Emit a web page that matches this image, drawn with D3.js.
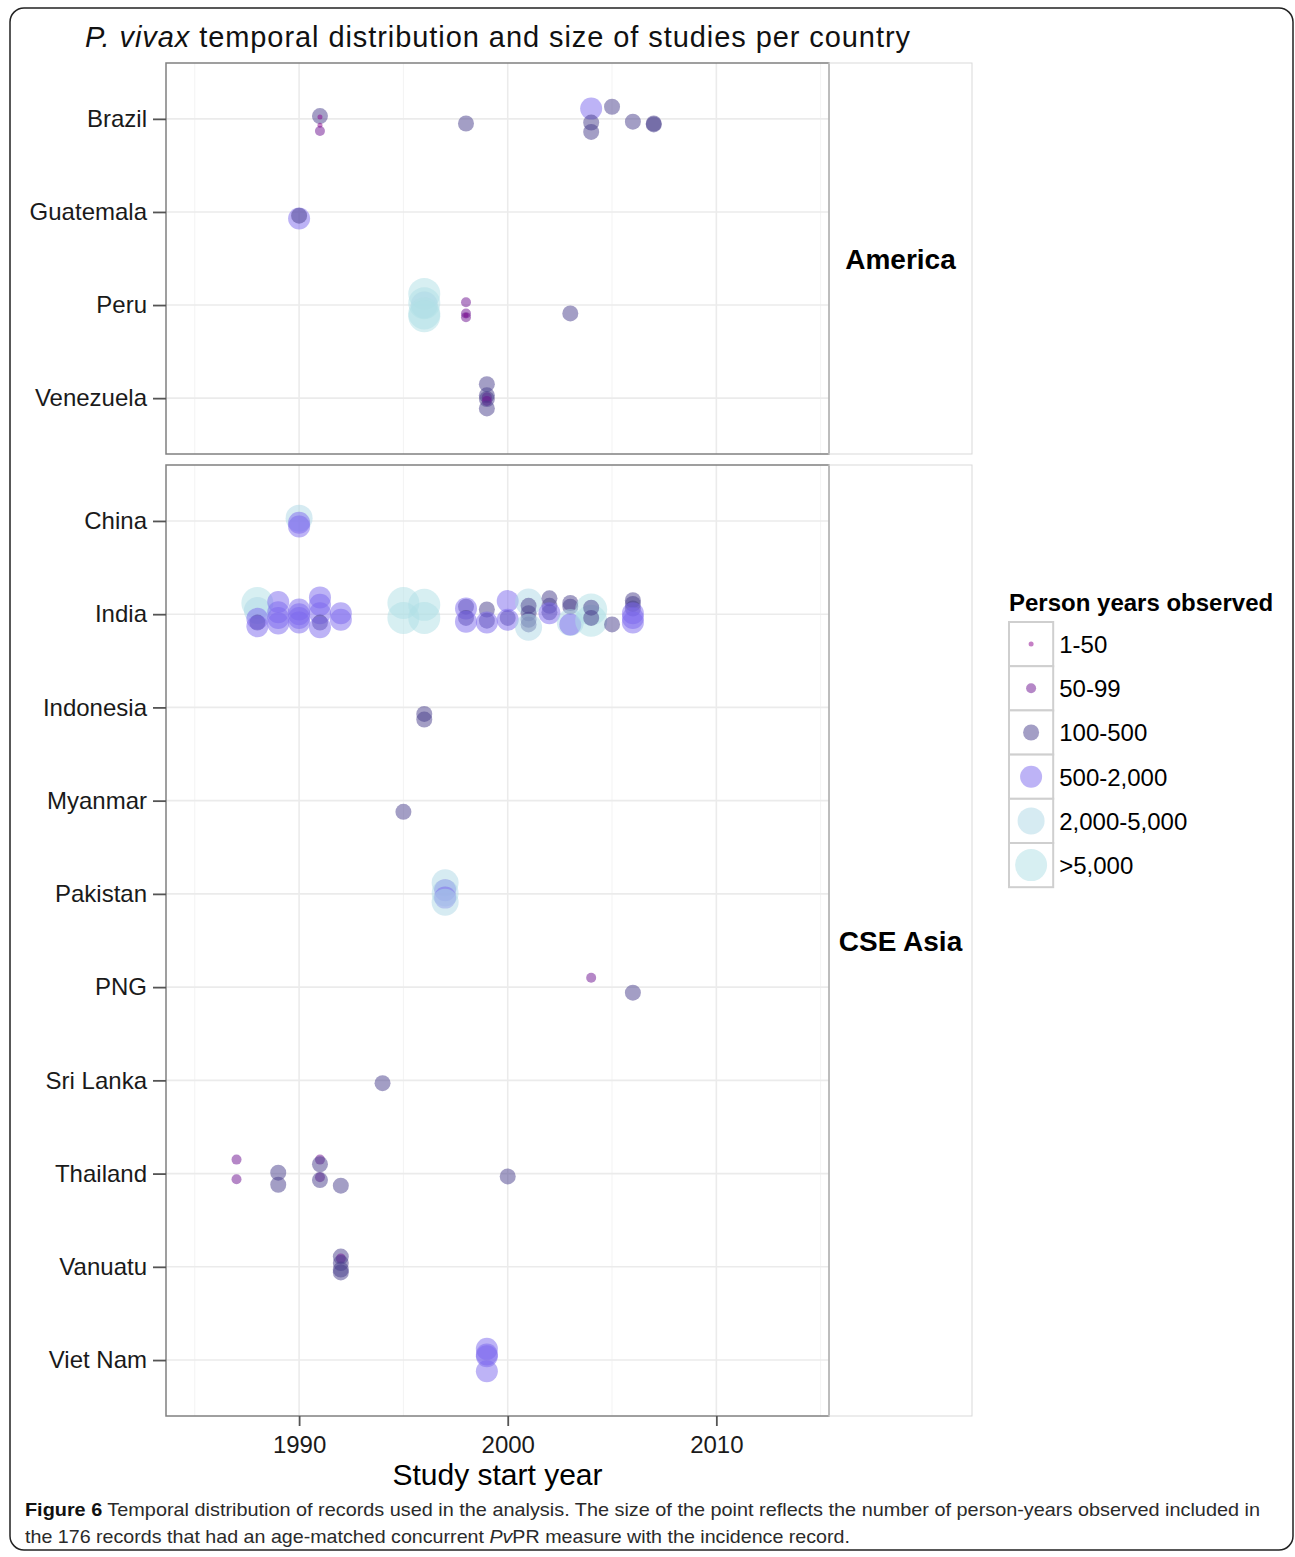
<!DOCTYPE html>
<html>
<head>
<meta charset="utf-8">
<script src="https://cdn.jsdelivr.net/npm/d3@7"></script>
<style>
  body { margin: 0; background: #fff; }
  text { font-family: "Liberation Sans", Arial, sans-serif; }
</style>
</head>
<body>
<script>
// categories
var americaCountries = ["Brazil", "Guatemala", "Peru", "Venezuela"];
var asiaCountries = ["China", "India", "Indonesia", "Myanmar", "Pakistan", "PNG", "Sri Lanka", "Thailand", "Vanuatu", "Viet Nam"];
var sizeClasses = ["1-50", "50-99", "100-500", "500-2,000", "2,000-5,000", ">5,000"];
var yearTicks = [1990, 2000, 2010];
var yearMinor = [1985, 1995, 2005, 2015];

// records: [country, start year, size class index, vertical jitter (row units)]
var americaRecords = [
  ["Brazil", 1991, 2, -0.03], ["Brazil", 1991, 0, -0.02], ["Brazil", 1991, 0, 0.07], ["Brazil", 1991, 1, 0.13],
  ["Brazil", 1998, 2, 0.05],
  ["Brazil", 2004, 3, -0.11], ["Brazil", 2004, 2, 0.04], ["Brazil", 2004, 2, 0.14],
  ["Brazil", 2005, 2, -0.13], ["Brazil", 2006, 2, 0.03],
  ["Brazil", 2007, 2, 0.05], ["Brazil", 2007, 2, 0.06],
  ["Guatemala", 1990, 3, 0.07], ["Guatemala", 1990, 2, 0.04],
  ["Peru", 1996, 5, -0.12], ["Peru", 1996, 5, -0.02], ["Peru", 1996, 4, 0.0], ["Peru", 1996, 5, 0.09], ["Peru", 1996, 5, 0.12],
  ["Peru", 1998, 1, -0.03], ["Peru", 1998, 1, 0.09], ["Peru", 1998, 0, 0.11], ["Peru", 1998, 1, 0.13],
  ["Peru", 2003, 2, 0.09],
  ["Venezuela", 1999, 2, -0.15], ["Venezuela", 1999, 2, -0.03], ["Venezuela", 1999, 1, -0.01],
  ["Venezuela", 1999, 2, 0.01], ["Venezuela", 1999, 1, 0.03], ["Venezuela", 1999, 2, 0.11]
];

var asiaRecords = [
  ["China", 1990, 4, -0.03], ["China", 1990, 3, 0.02], ["China", 1990, 3, 0.06],
  ["India", 1988, 5, -0.12], ["India", 1988, 4, -0.04], ["India", 1988, 3, 0.05], ["India", 1988, 2, 0.09], ["India", 1988, 3, 0.13],
  ["India", 1989, 3, -0.13], ["India", 1989, 3, -0.02], ["India", 1989, 3, 0.04], ["India", 1989, 3, 0.1],
  ["India", 1990, 3, -0.05], ["India", 1990, 3, 0.0], ["India", 1990, 3, 0.04], ["India", 1990, 3, 0.09],
  ["India", 1991, 3, -0.18], ["India", 1991, 3, -0.1], ["India", 1991, 3, -0.01], ["India", 1991, 2, 0.09], ["India", 1991, 3, 0.14],
  ["India", 1992, 3, -0.01], ["India", 1992, 3, 0.06],
  ["India", 1995, 5, -0.12], ["India", 1995, 5, 0.04],
  ["India", 1996, 5, -0.1], ["India", 1996, 5, 0.04],
  ["India", 1998, 2, -0.08], ["India", 1998, 3, -0.06], ["India", 1998, 2, 0.04], ["India", 1998, 3, 0.08],
  ["India", 1999, 2, -0.05], ["India", 1999, 2, 0.07], ["India", 1999, 3, 0.09],
  ["India", 2000, 3, -0.14], ["India", 2000, 2, 0.04], ["India", 2000, 3, 0.06],
  ["India", 2001, 4, -0.13], ["India", 2001, 2, -0.09], ["India", 2001, 2, -0.01], ["India", 2001, 2, 0.06], ["India", 2001, 2, 0.11], ["India", 2001, 4, 0.14],
  ["India", 2002, 2, -0.17], ["India", 2002, 2, -0.09], ["India", 2002, 2, -0.02], ["India", 2002, 3, -0.01],
  ["India", 2003, 2, -0.12], ["India", 2003, 2, -0.08], ["India", 2003, 4, 0.09], ["India", 2003, 3, 0.11],
  ["India", 2004, 5, -0.05], ["India", 2004, 5, 0.07], ["India", 2004, 2, -0.07], ["India", 2004, 2, 0.04],
  ["India", 2005, 2, 0.11],
  ["India", 2006, 2, -0.15], ["India", 2006, 2, -0.11], ["India", 2006, 2, -0.06], ["India", 2006, 3, -0.01], ["India", 2006, 3, 0.04], ["India", 2006, 3, 0.09],
  ["Indonesia", 1996, 2, 0.07], ["Indonesia", 1996, 2, 0.13],
  ["Myanmar", 1995, 2, 0.12],
  ["Pakistan", 1997, 4, -0.12], ["Pakistan", 1997, 3, -0.04], ["Pakistan", 1997, 4, -0.01], ["Pakistan", 1997, 3, 0.04], ["Pakistan", 1997, 4, 0.09],
  ["PNG", 2004, 1, -0.1], ["PNG", 2006, 2, 0.06],
  ["Sri Lanka", 1994, 2, 0.03],
  ["Thailand", 1987, 1, -0.15], ["Thailand", 1987, 1, 0.06],
  ["Thailand", 1989, 2, -0.01], ["Thailand", 1989, 2, 0.12],
  ["Thailand", 1991, 1, -0.15], ["Thailand", 1991, 2, -0.1], ["Thailand", 1991, 1, 0.04], ["Thailand", 1991, 2, 0.07],
  ["Thailand", 1992, 2, 0.13], ["Thailand", 2000, 2, 0.03],
  ["Vanuatu", 1992, 2, -0.11], ["Vanuatu", 1992, 1, -0.09], ["Vanuatu", 1992, 2, -0.04], ["Vanuatu", 1992, 2, 0.03], ["Vanuatu", 1992, 2, 0.06],
  ["Viet Nam", 1999, 3, -0.12], ["Viet Nam", 1999, 3, -0.06], ["Viet Nam", 1999, 3, -0.04], ["Viet Nam", 1999, 3, 0.12]
];

var W = 1295, H = 1557;
var panelLeft = 166, panelRight = 829, stripRight = 972;

var svg = d3.select("body").append("svg")
    .attr("width", W)
    .attr("height", H);

// outer figure frame
svg.append("rect")
    .attr("x", 10).attr("y", 8)
    .attr("width", 1283).attr("height", 1542)
    .attr("rx", 14)
    .attr("fill", "none")
    .attr("stroke", "#222")
    .attr("stroke-width", 1.5);

// title
var title = svg.append("text")
    .attr("x", 85).attr("y", 47)
    .attr("font-size", 29)
    .attr("fill", "#111")
    .attr("textLength", 825)
    .attr("lengthAdjust", "spacing");
title.append("tspan").attr("font-style", "italic").text("P. vivax");
title.append("tspan").text(" temporal distribution and size of studies per country");

var x = d3.scaleLinear()
    .domain([1983.62, 2015.4])
    .range([panelLeft, panelRight]);

var color = d3.scaleOrdinal()
    .domain(d3.range(6))
    .range(["#8b008b", "#6b0f8f", "#483d8b", "#7b68ee", "#add8e6", "#b0e0e6"]);

var radius = d3.scaleOrdinal()
    .domain(d3.range(6))
    .range([2.5, 5, 8, 11, 13.5, 16]);

function drawPanel(countries, records, top, bottom, label, showX){
    var y = d3.scalePoint()
        .domain(countries)
        .range([top, bottom])
        .padding(0.6);
    var step = y.step();
    var g = svg.append("g");

    // background + grid
    g.append("rect")
        .attr("x", panelLeft).attr("y", top)
        .attr("width", panelRight - panelLeft).attr("height", bottom - top)
        .attr("fill", "#fff");
    g.selectAll(".minor").data(yearMinor).enter().append("line")
        .attr("x1", x).attr("x2", x)
        .attr("y1", top).attr("y2", bottom)
        .attr("stroke", "#f3f3f3").attr("stroke-width", 1);
    g.selectAll(".major").data(yearTicks).enter().append("line")
        .attr("x1", x).attr("x2", x)
        .attr("y1", top).attr("y2", bottom)
        .attr("stroke", "#ebebeb").attr("stroke-width", 1.6);
    g.selectAll(".hgrid").data(countries).enter().append("line")
        .attr("x1", panelLeft).attr("x2", panelRight)
        .attr("y1", function(d){ return y(d); })
        .attr("y2", function(d){ return y(d); })
        .attr("stroke", "#ebebeb").attr("stroke-width", 1.6);

    // points
    g.selectAll("circle").data(records).enter().append("circle")
        .attr("cx", function(d){ return x(d[1]); })
        .attr("cy", function(d){ return y(d[0]) + d[3] * step; })
        .attr("r", function(d){ return radius(d[2]); })
        .attr("fill", function(d){ return color(d[2]); })
        .attr("fill-opacity", 0.5);

    // panel border
    g.append("rect")
        .attr("x", panelLeft).attr("y", top)
        .attr("width", panelRight - panelLeft).attr("height", bottom - top)
        .attr("fill", "none")
        .attr("stroke", "#808080").attr("stroke-width", 1.5);

    // strip on the right
    g.append("rect")
        .attr("x", panelRight).attr("y", top)
        .attr("width", stripRight - panelRight).attr("height", bottom - top)
        .attr("fill", "none")
        .attr("stroke", "#d9d9d9").attr("stroke-width", 1);
    g.append("text")
        .attr("x", (panelRight + stripRight) / 2)
        .attr("y", (top + bottom) / 2 + 10)
        .attr("text-anchor", "middle")
        .attr("font-size", 28)
        .attr("font-weight", "bold")
        .attr("fill", "#000")
        .text(label);

    // y axis
    var ya = svg.append("g")
        .attr("transform", "translate(" + panelLeft + ",0)")
        .call(d3.axisLeft(y).tickSize(13).tickPadding(6));
    ya.select(".domain").remove();
    ya.selectAll(".tick line").attr("stroke", "#555").attr("stroke-width", 1.8);
    ya.selectAll(".tick text")
        .attr("font-size", 24)
        .attr("fill", "#1a1a1a")
        .attr("font-family", "Liberation Sans, Arial, sans-serif");

    if(showX){
        var xa = svg.append("g")
            .attr("transform", "translate(0," + bottom + ")")
            .call(d3.axisBottom(x)
                .tickValues(yearTicks)
                .tickFormat(d3.format("d"))
                .tickSize(10)
                .tickPadding(10));
        xa.select(".domain").remove();
        xa.selectAll(".tick line").attr("stroke", "#555").attr("stroke-width", 1.8);
        xa.selectAll(".tick text")
            .attr("font-size", 24)
            .attr("fill", "#1a1a1a")
            .attr("font-family", "Liberation Sans, Arial, sans-serif");
    }
}

drawPanel(americaCountries, americaRecords, 63, 454, "America", false);
drawPanel(asiaCountries, asiaRecords, 465, 1416, "CSE Asia", true);

// x axis title
svg.append("text")
    .attr("x", (panelLeft + panelRight) / 2)
    .attr("y", 1485)
    .attr("text-anchor", "middle")
    .attr("font-size", 30)
    .attr("fill", "#000")
    .text("Study start year");

// legend
var legend = svg.append("g").attr("transform", "translate(1009,622)");
var keySize = 44.2;
legend.append("text")
    .attr("x", 0).attr("y", -11)
    .attr("font-size", 24)
    .attr("font-weight", "bold")
    .attr("fill", "#000")
    .text("Person years observed");
var keys = legend.selectAll(".key").data(sizeClasses).enter().append("g")
    .attr("transform", function(d, i){ return "translate(0," + (i * keySize) + ")"; });
keys.append("rect")
    .attr("width", keySize).attr("height", keySize)
    .attr("fill", "#fff")
    .attr("stroke", "#cfcfcf").attr("stroke-width", 2);
keys.append("circle")
    .attr("cx", keySize / 2).attr("cy", keySize / 2)
    .attr("r", function(d, i){ return radius(i); })
    .attr("fill", function(d, i){ return color(i); })
    .attr("fill-opacity", 0.5);
keys.append("text")
    .attr("x", keySize + 6).attr("y", keySize / 2 + 9)
    .attr("font-size", 24)
    .attr("fill", "#000")
    .text(function(d){ return d; });

// caption
var cap1 = svg.append("text")
    .attr("x", 25).attr("y", 1516)
    .attr("font-size", 19)
    .attr("font-family", "Open Sans, sans-serif")
    .attr("fill", "#2a2a2a")
    .attr("textLength", 1235)
    .attr("lengthAdjust", "spacingAndGlyphs");
cap1.append("tspan").attr("font-weight", "bold").attr("fill", "#111").text("Figure 6");
cap1.append("tspan").text(" Temporal distribution of records used in the analysis. The size of the point reflects the number of person-years observed included in");
var cap2 = svg.append("text")
    .attr("x", 25).attr("y", 1543)
    .attr("font-size", 19)
    .attr("font-family", "Open Sans, sans-serif")
    .attr("fill", "#2a2a2a")
    .attr("textLength", 825)
    .attr("lengthAdjust", "spacingAndGlyphs");
cap2.append("tspan").text("the 176 records that had an age-matched concurrent ");
cap2.append("tspan").attr("font-style", "italic").text("Pv");
cap2.append("tspan").text("PR measure with the incidence record.");
</script>
</body>
</html>
